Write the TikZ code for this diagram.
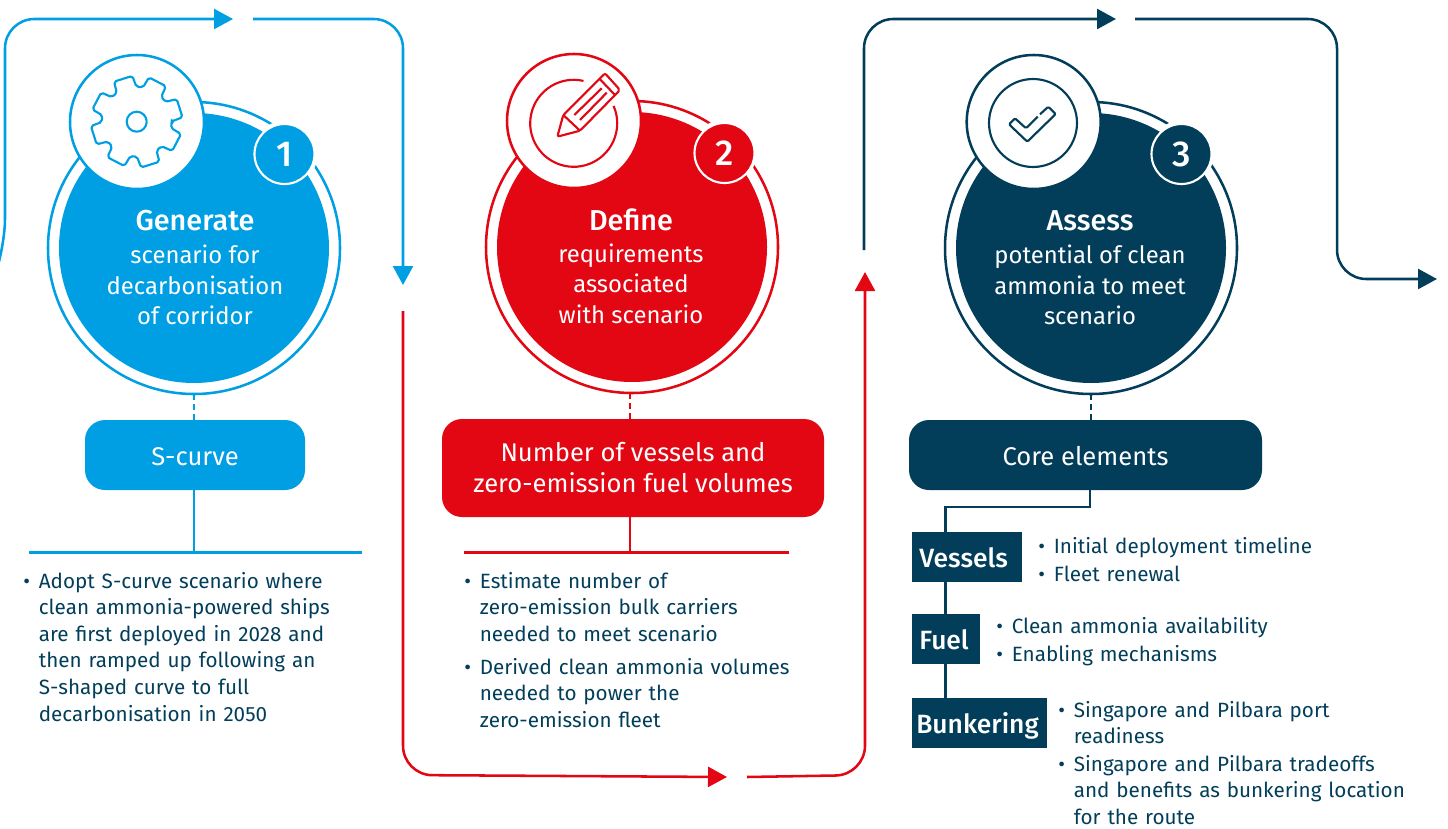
\documentclass[tikz,border=0pt]{standalone}
\usepackage{fontspec}
\setmainfont{Fira Sans}[BoldFont=* Medium]
\usetikzlibrary{arrows.meta,calc}
\definecolor{cblue}{HTML}{009FE3}
\definecolor{cred}{HTML}{E30613}
\definecolor{cdark}{HTML}{023E5A}
\def\pxu{0.75pt}
\tikzset{
  disc/.style={circle,inner sep=0pt,outer sep=0pt,minimum size=#1*\pxu},
  ringline/.style={disc=292,draw=#1,line width=1.9pt,fill=white},
  corefill/.style={disc=270,fill=#1},
  iconcircle/.style={disc=134,draw=#1,line width=1.9pt,fill=white},
  halo/.style={disc=66,fill=white},
  badge/.style={disc=60,fill=#1,draw=white,line width=1.6pt,text=white,font=\fontsize{27}{27}\selectfont\bfseries},
  head/.style={text=white,font=\fontsize{21.6}{21.6}\selectfont\bfseries,inner sep=0pt},
  sub/.style={text=white,font=\fontsize{17.9}{22.8}\selectfont,align=center,inner sep=0pt},
  flow/.style={draw=#1,line width=1.9pt,rounded corners=22pt,-{Triangle[length=14.25pt,width=15pt]}},
  stem/.style={draw=#1,line width=1.9pt},
  dashstem/.style={draw=#1,line width=1.9pt,dash pattern=on 4.5pt off 3pt},
  topbox/.style={fill=#1,rounded corners=15pt,text=white,inner sep=0pt,align=center,font=\fontsize{19.2}{23.2}\selectfont},
  subbox/.style={fill=cdark,text=white,inner sep=0pt,font=\fontsize{19.8}{19.8}\selectfont\bfseries},
  points/.style={text=cdark,font=\fontsize{15.5}{19.9}\selectfont,align=left,inner sep=0pt,anchor=north west},
  glyph/.style={draw=#1,line width=1.6pt,line join=round},
}
\newcommand{\bul}{\textbullet\hspace{0.43em}}
\newcommand{\lowered}[1]{\raisebox{-1.2pt}[0.7em][0pt]{#1}}
\begin{document}
\begin{tikzpicture}[x=\pxu,y=\pxu,yscale=-1]
\useasboundingbox (0,0) rectangle (1448,828);

%% stage 1
\node[ringline=cblue] (r1) at (194,248) {};
\node[halo] (h1) at (284.5,154) {};
\node[corefill=cblue] (f1) at (194,248) {};
\node[iconcircle=cblue] (i1) at (137,122) {};
\node[badge=cblue] (b1) at (284.5,154) {1};
\node[head] (t1) at (195,221) {Generate};
\node[sub] (s1) at (195,285) {scenario for\\decarbonisation\\of corridor};
\begin{scope}[shift={(136.7,121.7)}]
  \draw[glyph=cblue,rounded corners=1.5pt] (0.5:35)
    \foreach \a in {-17.5,-62.5,-107.5,-152.5,-197.5,-242.5,-287.5,-332.5} {
      -- (\a+17:35) -- (\a+12:46) -- (\a-12:46) -- (\a-17:35) } -- cycle;
  \draw[glyph=cblue] (0,0) circle[radius=10];
\end{scope}

%% stage 2
\node[ringline=cred] (r2) at (632,247) {};
\node[halo] (h2) at (723.5,153) {};
\node[corefill=cred] (f2) at (632,247) {};
\node[iconcircle=cred] (i2) at (574,121) {};
\node[badge=cred] (b2) at (724.5,153) {2};
\node[head] (t2) at (631,220) {Define};
\node[sub] (s2) at (631,283.5) {requirements\\associated\\with scenario};
\draw[glyph=cred] ([shift={(-77:43.5)}]573.7,123.3) arc[start angle=-77,end angle=-383.6,radius=43.5];
\draw[glyph=cred,rounded corners=1.5pt] (580,130.7) -- (557.3,136.7) -- (563.3,115) -- (605,73.3) -- (620,90) -- cycle;
\draw[glyph=cred] (563.3,115) -- (580,130.7) (600,79.3) -- (615,95) (574.3,115) -- (601.7,88.3) (580,120) -- (606.7,92.7);

%% stage 3
\node[ringline=cdark] (r3) at (1091,248) {};
\node[halo] (h3) at (1180.7,154) {};
\node[corefill=cdark] (f3) at (1091,248) {};
\node[iconcircle=cdark] (i3) at (1033.7,122) {};
\node[badge=cdark] (b3) at (1181.5,154) {3};
\node[head] (t3) at (1090,221) {Assess};
\node[sub] (s3) at (1090,285) {potential of clean\\ammonia to meet\\scenario};
\draw[glyph=cdark] (1033,123) circle[radius=44];
\draw[glyph=cdark,rounded corners=1pt] (1037.7,116.7) -- (1026,128.3) -- (1015,118.3) -- (1009,124.3) -- (1027.3,141.7) -- (1055.7,114) -- (1048.3,106.7) -- (1040,114.3);

%% boxes
\node[topbox=cblue,minimum width=220*\pxu,minimum height=70*\pxu] (bx1) at (195,455) {\lowered{S-curve}};
\node[topbox=cred,minimum width=382*\pxu,minimum height=98*\pxu] (bx2) at (633,468) {Number of vessels and\\zero-emission fuel volumes};
\node[topbox=cdark,minimum width=353*\pxu,minimum height=70*\pxu] (bx3) at (1085.5,455) {\lowered{Core elements}};
\node[subbox,minimum width=110*\pxu,minimum height=50*\pxu] (v) at (967,557) {\hspace{-5pt}\lowered{Vessels}};
\node[subbox,minimum width=68*\pxu,minimum height=50*\pxu] (fu) at (946,639) {\hspace{-3pt}\lowered{Fuel}};
\node[subbox,minimum width=135*\pxu,minimum height=50*\pxu] (bk) at (979.5,723) {\hspace{-3pt}\lowered{Bunkering}};

%% stems
\coordinate (r1b) at (194,394); \coordinate (bx1t) at (194,420);
\coordinate (r2b) at (630,393); \coordinate (bx2t) at (630,419);
\coordinate (r3b) at (1091,394); \coordinate (bx3t) at (1091,420);
\draw[dashstem=cblue] (r1b) -- (bx1t);
\draw[dashstem=cred] (r2b) -- (bx2t);
\draw[dashstem=cdark] (r3b) -- (bx3t);
\coordinate (l1a) at (29,552.5); \coordinate (l1b) at (362,552.5); \coordinate (l1s) at (194,490); \coordinate (l1e) at (194,552.5);
\coordinate (l2a) at (464,552.5); \coordinate (l2b) at (789,552.5); \coordinate (l2s) at (630,517); \coordinate (l2e) at (630,552.5);
\draw[stem=cblue] (l1a) -- (l1b); \draw[stem=cblue] (l1s) -- (l1e);
\draw[stem=cred] (l2a) -- (l2b); \draw[stem=cred] (l2s) -- (l2e);
\coordinate (c3s) at (1090,490); \coordinate (c3m) at (1090,507); \coordinate (c3n) at (945.5,507); \coordinate (c3v) at (945.5,532);
\draw[stem=cdark] (c3s) -- (c3m) -- (c3n) -- (c3v);
\coordinate (c3f1) at (945.5,582); \coordinate (c3f2) at (945.5,614);
\coordinate (c3f3) at (945.5,664); \coordinate (c3f4) at (945.5,698);
\draw[stem=cdark] (c3f1) -- (c3f2);
\draw[stem=cdark] (c3f3) -- (c3f4);

%% flow
\coordinate (a0) at (-1,264); \coordinate (a1) at (5,248); \coordinate (a2) at (5,19); \coordinate (a3) at (233,19);
\draw[flow=cblue] (a0) -- (a1) -- (a2) -- (a3);
\coordinate (a4) at (253,19); \coordinate (a5) at (403,19); \coordinate (a6) at (403,285);
\draw[flow=cblue] (a4) -- (a5) -- (a6);
\coordinate (b0) at (403,311); \coordinate (b01) at (403,775); \coordinate (b02) at (727,777);
\draw[flow=cred] (b0) -- (b01) -- (b02);
\coordinate (b03) at (747,777); \coordinate (b04) at (865,775); \coordinate (b05) at (865,272);
\draw[flow=cred] (b03) -- (b04) -- (b05);
\coordinate (d0) at (864,250); \coordinate (d1) at (864,19); \coordinate (d2) at (1116,19);
\draw[flow=cdark] (d0) -- (d1) -- (d2);
\coordinate (d3) at (1135,19); \coordinate (d4) at (1337,19); \coordinate (d5) at (1337,279); \coordinate (d6) at (1437,279);
\draw[flow=cdark] (d3) -- (d4) -- (d5) -- (d6);

%% bullet texts
\node[points,text width=380*\pxu] (p1) at (23,572) {\bul Adopt S-curve scenario where\\
\phantom{\bul}clean ammonia-powered ships\\
\phantom{\bul}are first deployed in 2028 and\\
\phantom{\bul}then ramped up following an\\
\phantom{\bul}S-shaped curve to full\\
\phantom{\bul}decarbonisation in 2050};
\node[points,text width=380*\pxu] (p2) at (464,572) {\bul Estimate number of\\
\phantom{\bul}zero-emission bulk carriers\\
\phantom{\bul}needed to meet scenario};
\node[points,text width=380*\pxu] (p3) at (464,658) {\bul Derived clean ammonia volumes\\
\phantom{\bul}needed to power the\\
\phantom{\bul}zero-emission fleet};
\node[points,text width=380*\pxu] (p4) at (1038,537) {\bul Initial deployment timeline\\[1pt]\bul Fleet renewal};
\node[points,text width=380*\pxu] (p5) at (996,617) {\bul Clean ammonia availability\\[1pt]\bul Enabling mechanisms};
\node[points,text width=385*\pxu] (p6) at (1058,701) {\bul Singapore and Pilbara port\\
\phantom{\bul}readiness};
\node[points,text width=385*\pxu] (p7) at (1058,755) {\bul Singapore and Pilbara tradeoffs\\
\phantom{\bul}and benefits as bunkering location\\
\phantom{\bul}for the route};
\end{tikzpicture}
\end{document}
